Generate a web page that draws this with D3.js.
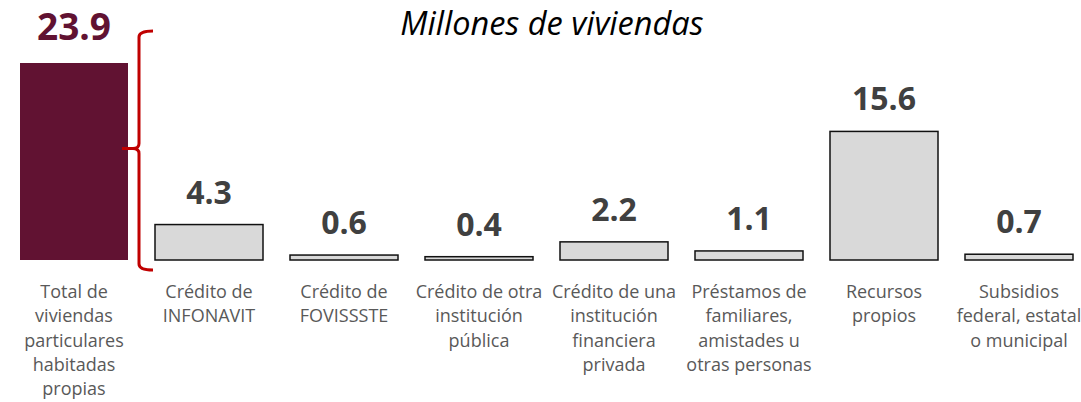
<!DOCTYPE html>
<html>
<head>
<meta charset="utf-8">
<script src="https://cdn.jsdelivr.net/npm/d3@7"></script>
<style>
  html, body { margin: 0; padding: 0; background: #fff; }
  svg { display: block; }
</style>
</head>
<body>
<svg id="chart" width="1081" height="402"></svg>
<script>
const categories = [
  "Total de viviendas particulares habitadas propias",
  "Crédito de INFONAVIT",
  "Crédito de FOVISSSTE",
  "Crédito de otra institución pública",
  "Crédito de una institución financiera privada",
  "Préstamos de familiares, amistades u otras personas",
  "Recursos propios",
  "Subsidios federal, estatal o municipal"
];
const categoryLines = [
  ["Total de", "viviendas", "particulares", "habitadas", "propias"],
  ["Crédito de", "INFONAVIT"],
  ["Crédito de", "FOVISSSTE"],
  ["Crédito de otra", "institución", "pública"],
  ["Crédito de una", "institución", "financiera", "privada"],
  ["Préstamos de", "familiares,", "amistades u", "otras personas"],
  ["Recursos", "propios"],
  ["Subsidios", "federal, estatal", "o municipal"]
];
const values = [23.9, 4.3, 0.6, 0.4, 2.2, 1.1, 15.6, 0.7];
const valueLabels = ["23.9", "4.3", "0.6", "0.4", "2.2", "1.1", "15.6", "0.7"];
const title = "Millones de viviendas";

const svg = d3.select("#chart");
const baseY = 260;

const x = d3.scaleBand()
  .domain(categories)
  .range([6.5, 1086.5])
  .paddingInner(0.2)
  .paddingOuter(0.1);

const y = d3.scaleLinear()
  .domain([0, 23.9])
  .range([baseY, 63]);

// title
svg.append("text")
  .attr("x", 552)
  .attr("y", 35)
  .attr("text-anchor", "middle")
  .attr("font-family", "Open Sans")
  .attr("font-style", "italic")
  .attr("font-size", 32.5)
  .attr("fill", "#000")
  .text(title);

// bars
svg.selectAll("rect.bar")
  .data(values)
  .join("rect")
  .attr("class", "bar")
  .attr("x", (d, i) => x(categories[i]))
  .attr("width", x.bandwidth())
  .attr("y", d => y(d))
  .attr("height", d => baseY - y(d))
  .attr("fill", (d, i) => i === 0 ? "#611232" : "#d9d9d9")
  .attr("stroke", (d, i) => i === 0 ? "none" : "#111")
  .attr("stroke-width", 1.5);

// value labels
svg.selectAll("text.val")
  .data(values)
  .join("text")
  .attr("class", "val")
  .attr("x", (d, i) => x(categories[i]) + x.bandwidth() / 2)
  .attr("y", (d, i) => i === 0 ? y(d) - 23 : y(d) - 21)
  .attr("text-anchor", "middle")
  .attr("font-family", "Open Sans")
  .attr("font-weight", "bold")
  .attr("font-size", (d, i) => i === 0 ? 37 : 32)
  .attr("fill", (d, i) => i === 0 ? "#611232" : "#404040")
  .text((d, i) => valueLabels[i]);

// category labels
const catG = svg.selectAll("g.cat")
  .data(categories)
  .join("g")
  .attr("class", "cat")
  .attr("transform", d => `translate(${x(d) + x.bandwidth() / 2},0)`);

catG.each(function(d, i) {
  const t = d3.select(this).append("text")
    .attr("text-anchor", "middle")
    .attr("font-family", "Open Sans")
    .attr("font-size", 18)
    .attr("fill", "#595959");
  categoryLines[i].forEach((line, j) => {
    t.append("tspan")
      .attr("x", 0)
      .attr("y", 298 + j * 24.3)
      .text(line);
  });
});

// brace
const bx = x(categories[0]) + x.bandwidth() + 11;
const braceTop = y(values[0]) - 32;
const braceBot = baseY + 10;
const braceMid = (braceTop + braceBot) / 2 - 2;
const braceW = 14;
const p = d3.path();
p.moveTo(bx + braceW, braceTop);
p.quadraticCurveTo(bx, braceTop, bx, braceTop + 6);
p.lineTo(bx, braceMid - 5);
p.quadraticCurveTo(bx, braceMid, bx - 6, braceMid);
p.lineTo(bx - 17, braceMid);
p.moveTo(bx - 6, braceMid);
p.quadraticCurveTo(bx, braceMid, bx, braceMid + 5);
p.lineTo(bx, braceBot - 6);
p.quadraticCurveTo(bx, braceBot, bx + braceW, braceBot);
svg.append("path")
  .attr("d", p.toString())
  .attr("fill", "none")
  .attr("stroke", "#c00000")
  .attr("stroke-width", 3);
</script>
</body>
</html>
